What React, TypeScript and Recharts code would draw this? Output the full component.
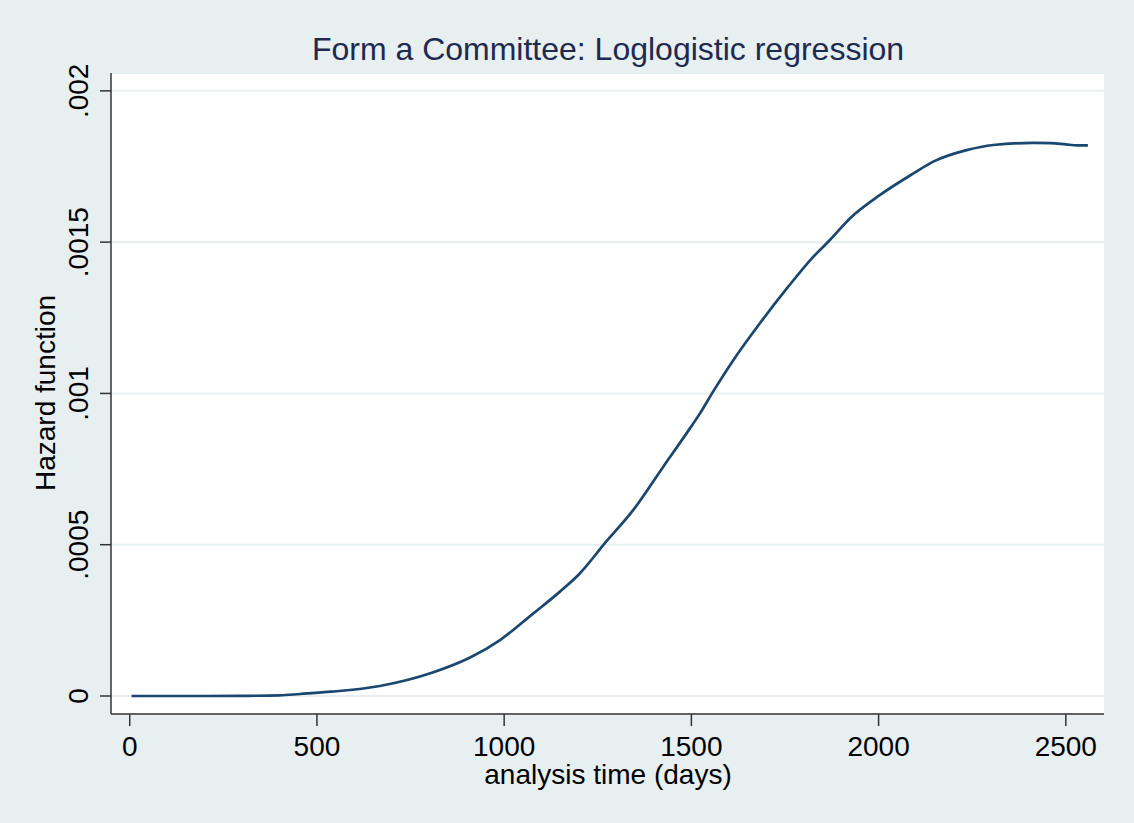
import { LineChart, Line, XAxis, YAxis, CartesianGrid, Label } from 'recharts';

const days = [5, 100, 200, 300, 400, 455, 539, 668, 811, 909, 989, 1078, 1149, 1202, 1269, 1345, 1425, 1487, 1523, 1558, 1612, 1683, 1755, 1826, 1870, 1924, 2004, 2093, 2146, 2235, 2306, 2413, 2460, 2500, 2530, 2559];
const hazard = [0, 0, 0, 0.0000005, 0.000002, 0.0000066, 0.0000142, 0.000033, 0.0000783, 0.000127, 0.000185, 0.000273, 0.000345, 0.000405, 0.000505, 0.000615, 0.000758, 0.000868, 0.000934, 0.001006, 0.00111, 0.001232, 0.001347, 0.001452, 0.001507, 0.001579, 0.001656, 0.001727, 0.001766, 0.001804, 0.001821, 0.001828, 0.001827, 0.001823, 0.00182, 0.00182];

const xTicks = [0, 500, 1000, 1500, 2000, 2500];
const yTicks = [0, 0.0005, 0.001, 0.0015, 0.002];
const yTickLabels = ['0', '.0005', '.001', '.0015', '.002'];

const data = days.map((d, i) => ({ t: d, h: hazard[i] }));

const FONT = '"Liberation Sans", Arial, sans-serif';
const BG = '#e7eff1';
const AXIS = '#333333';

const XTick = (props: any) => (
  <text x={props.x} y={756} textAnchor="middle" fontFamily={FONT} fontSize={28} fill="#000">
    {props.payload.value}
  </text>
);

const YTick = (props: any) => {
  const idx = yTicks.indexOf(props.payload.value);
  const y = props.y;
  return (
    <text x={88} y={y} transform={`rotate(-90 88 ${y})`} textAnchor="middle" fontFamily={FONT} fontSize={28} fill="#000">
      {idx >= 0 ? yTickLabels[idx] : props.payload.value}
    </text>
  );
};

export default function App() {
  return (
    <div style={{ position: 'absolute', left: 0, top: 0, width: 1134, height: 823, background: BG }}>
      <LineChart width={1134} height={823} data={data} margin={{ top: 73, right: 30, bottom: 0, left: 0 }}>
        <CartesianGrid vertical={false} fill="#ffffff" stroke={BG} strokeWidth={2} />
        <XAxis
          dataKey="t"
          type="number"
          domain={[-50, 2602]}
          ticks={xTicks}
          allowDataOverflow
          height={109}
          tickSize={12}
          stroke={AXIS}
          strokeWidth={1.5}
          tick={<XTick />}
        >
          <Label
            content={() => (
              <text x={608} y={784} textAnchor="middle" fontFamily={FONT} fontSize={28} fill="#000">
                analysis time (days)
              </text>
            )}
          />
          <Label
            content={() => (
              <text x={608} y={60} textAnchor="middle" fontFamily={FONT} fontSize={32} fill="#1e2a4e">
                Form a Committee: Loglogistic regression
              </text>
            )}
          />
        </XAxis>
        <YAxis
          type="number"
          domain={[-0.0000595, 0.002059]}
          ticks={yTicks}
          allowDataOverflow
          width={111}
          tickSize={11}
          stroke={AXIS}
          strokeWidth={1.5}
          tick={<YTick />}
        >
          <Label
            content={() => (
              <text x={55} y={393} transform="rotate(-90 55 393)" textAnchor="middle" fontFamily={FONT} fontSize={28} fill="#000">
                Hazard function
              </text>
            )}
          />
        </YAxis>
        <Line
          type="monotone"
          dataKey="h"
          stroke="#1a476f"
          strokeWidth={2.7}
          dot={false}
          isAnimationActive={false}
        />
      </LineChart>
    </div>
  );
}
